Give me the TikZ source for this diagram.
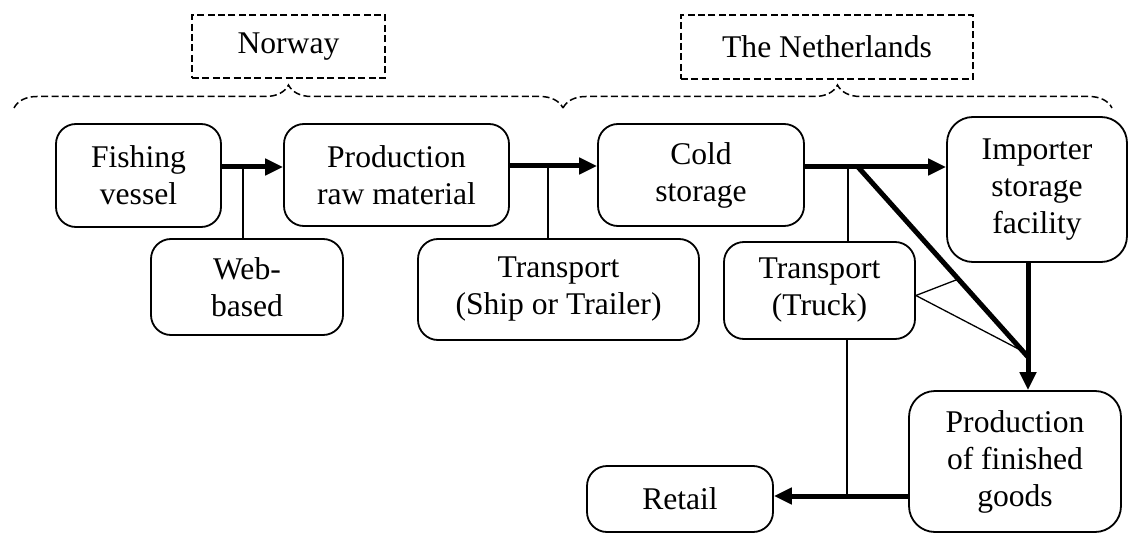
\documentclass[tikz,border=0pt]{standalone}
\usepackage{fontspec}
\setmainfont{Liberation Serif}
\usetikzlibrary{arrows.meta,decorations.pathreplacing,calc}

\begin{document}
\begin{tikzpicture}[x=0.5pt,y=0.5pt]
	\tikzstyle{every node}+=[inner sep=0pt, align=center, font=\fontsize{15.8}{18.5}\selectfont]
	\tikzstyle{box}=[draw, line width=0.9pt, rounded corners=10pt]
	\tikzstyle{country}=[draw, line width=0.75pt, dash pattern=on 3.5pt off 1.7pt]
	\tikzstyle{region}=[line width=0.75pt, dash pattern=on 3.5pt off 1.7pt, decorate, decoration={brace, amplitude=11.5pt}]
	\tikzstyle{flow}=[line width=2.5pt, -{Triangle[length=9pt,width=8pt]}]
	\tikzstyle{link}=[line width=0.65pt]
	\useasboundingbox (0,0) rectangle (1128,-534);
	% countries
	\node [country, minimum width=96.5pt, minimum height=31.5pt] (nor) at (288.5,-46.5) {Norway};
	\node [country, minimum width=146pt, minimum height=32pt] (ned) at (827,-47) {The Netherlands};
	\draw [region] (14,-108) -- (563,-108);
	\draw [region] (563,-108) -- (1112,-108);
	% chain
	\node [box, minimum width=82.5pt, minimum height=51.5pt] (fv) at (138.5,-175.5) {Fishing\\vessel};
	\node [box, minimum width=112.5pt, minimum height=51pt] (pr) at (396.5,-175) {Production\\raw material};
	\node [box, minimum width=103pt, minimum height=51pt] (cs) at (701,-175) {Cold\\storage};
	\node [box, rounded corners=13pt, minimum width=90pt, minimum height=72.5pt] (imp) at (1037,-189.5) {Importer\\storage\\facility};
	\node [box, minimum width=96pt, minimum height=48pt] (web) at (247,-287) {Web-\\based};
	\node [box, minimum width=140.5pt, minimum height=50.5pt] (ship) at (558.5,-289.5) {Transport\\(Ship or Trailer)};
	\node [box, minimum width=95.5pt, minimum height=48.5pt] (truck) at (819.5,-290.5) {Transport\\(Truck)};
	\node [box, rounded corners=13pt, minimum width=106pt, minimum height=70.5pt] (fg) at (1015,-461.5) {Production\\of finished\\goods};
	\node [box, minimum width=93pt, minimum height=33pt] (rt) at (680,-499) {Retail};
	% connectors
	\coordinate (wj) at (243,-167);
	\coordinate (sj) at (548,-166);
	\coordinate (tj) at (848,-167);
	\coordinate (dj) at (858,-167);
	\coordinate (mj) at (1028,-357);
	\coordinate (rj) at (847,-496);
	\coordinate (te) at ($(truck.east)+(0,-5)$);
	\draw [flow] (fv.east |- wj) -- (pr.west |- wj);
	\draw [link] (wj) -- (wj |- web.north);
	\draw [flow] (pr.east |- sj) -- (cs.west |- sj);
	\draw [link] (sj) -- (sj |- ship.north);
	\draw [flow] (cs.east |- tj) -- (imp.west |- tj);
	\draw [link] (tj) -- (tj |- truck.north);
	\draw [line width=2.5pt] (dj) -- (mj);
	\draw [flow] (imp.south -| mj) -- (fg.north -| mj);
	\draw [link] (te) -- ($(dj)!0.59!(mj)$);
	\draw [link] (te) -- ($(dj)!0.97!(mj)$);
	\draw [link] (truck.south -| rj) -- (rj);
	\draw [flow] (fg.west |- rj) -- (rt.east |- rj);
\end{tikzpicture}
\end{document}
